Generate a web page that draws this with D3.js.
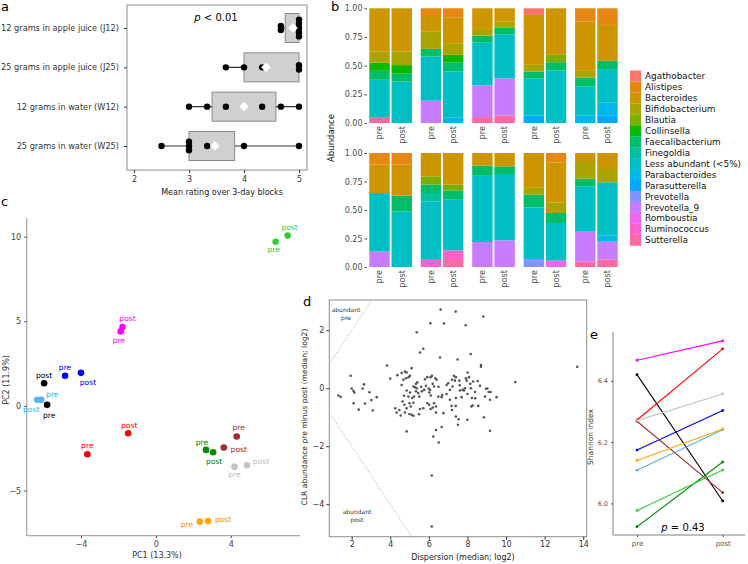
<!DOCTYPE html>
<html><head><meta charset="utf-8">
<script src="https://cdn.jsdelivr.net/npm/d3@7"></script>
<style>body{margin:0;background:#fff} svg{display:block}</style>
</head><body><svg id="fig" width="748" height="564"></svg>
<script>
// ---------------- DATA ----------------
// Panel a: tolerability ratings
const tolerCats = ["12 grams in apple juice (J12)","25 grams in apple juice (J25)","12 grams in water (W12)","25 grams in water (W25)"];
const tolerPoints = [[4.67,4.67,5,5,5,5,5],[3.67,4,4.33,5,5],[3,3.33,3.67,4.33,4.67,5],[2.5,3,3,3,3.33,4,5]];
const tolerQ1 = [4.75,4.0,3.42,3.0];
const tolerQ3 = [5,5,4.58,3.83];
const tolerMin = [4.67,3.67,3,2.5];
const tolerMax = [5,5,5,5];
const tolerMean = [4.89,4.4,4.0,3.47];
const tolerTicks = [2,3,4,5];

// Panel b: genus relative abundance, 20 samples (subject 1..10, pre/post)
const genera = ["Agathobacter","Alistipes","Bacteroides","Bifidobacterium","Blautia","Collinsella","Faecalibacterium","Finegoldia","Less abundant (<5%)","Parabacteroides","Parasutterella","Prevotella","Prevotella_9","Romboustia","Ruminococcus","Sutterella"];
const genusColors = ["#F8766D","#E68613","#CD9600","#ABA300","#7CAE00","#0CB702","#00BE67","#00C19A","#00BFC4","#00B8E7","#00A9FF","#8494FF","#C77CFF","#ED68ED","#FF61CC","#FF68A1"];
const timepoints = ["pre","post"];
const facetSubjects = [["S1","S2","S3","S4","S5"],["S6","S7","S8","S9","S10"]];
const abAgathobacter   = [0,0,0,0,0,0,.058,0,0,0, 0,0,0,0,0,0,0,0,0,0];
const abAlistipes      = [0,0,.067,.078,0,0,0,0,.116,.145, .102,.102,0,0,0,0,0,.082,0,0];
const abBacteroides    = [.377,.377,.133,.226,.18,.116,.435,.406,.429,.313, .249,.272,.205,.278,.111,.117,.30,.351,.079,.14];
const abBifidobacterium= [.096,.118,.154,.102,.058,.054,.058,0,.058,0, 0,0,0,0,0,0,.065,.093,.146,.117];
const abBlautia        = [0,0,0,0,0,0,0,.064,0,0, 0,0,.073,.05,0,0,0,0,0,0];
const abCollinsella    = [.072,.075,0,.067,0,0,0,0,0,0, 0,0,0,0,0,0,0,0,0,0];
const abFaecali        = [.078,.068,.066,.077,.062,.056,.059,.072,.077,.072, 0,.138,.073,.082,.089,.067,.112,.088,.067,0];
const abFinegoldia     = [0,0,0,0,0,0,0,0,0,0, 0,0,.073,0,0,0,0,0,0,0];
const abLess           = [.325,.362,.386,.40,.372,.384,.326,.458,.256,.29, .514,.488,.506,.444,.581,.582,.453,.33,.398,.468];
const abParabacteroides= [0,0,0,.05,0,0,0,0,.064,.113, 0,0,0,0,0,0,0,0,0,.053];
const abParasutterella = [0,0,0,0,0,0,.064,0,0,.067, 0,0,0,0,0,0,0,0,0,0];
const abPrevotella     = [0,0,0,0,0,0,0,0,0,0, 0,0,0,0,0,0,.07,0,0,0];
const abPrevotella9    = [0,0,.194,0,.276,.326,0,0,0,0, .135,0,0,0,.219,.234,0,0,.26,.158];
const abRomboustia     = [0,0,0,0,0,0,0,0,0,0, 0,0,0,0,0,0,0,.056,0,0];
const abRuminococcus   = [0,0,0,0,0,0,0,0,0,0, 0,0,.07,.076,0,0,0,0,0,0];
const abSutterella     = [.052,0,0,0,.052,.064,0,0,0,0, 0,0,0,.07,0,0,0,0,.05,.064];
const abundance = [abAgathobacter,abAlistipes,abBacteroides,abBifidobacterium,abBlautia,abCollinsella,abFaecali,abFinegoldia,abLess,abParabacteroides,abParasutterella,abPrevotella,abPrevotella9,abRomboustia,abRuminococcus,abSutterella];
const abTicks = [0,0.25,0.5,0.75,1];

// Panel c: PCA per subject
const subjects = ["S1","S2","S3","S4","S5","S6","S7","S8","S9","S10"];
const subjColors = ["#FF00FF","#0000FF","#000000","#56B4E9","#FF0000","#A52A2A","#008B00","#C4C4C4","#FFA500","#32CD32"];
const pc1Pre  = [-1.88,-4.85,-5.81,-6.12,-3.66,4.32,2.68,4.20,2.35,6.40];
const pc2Pre  = [4.40,1.78,0.06,0.36,-2.86,-1.81,-2.60,-3.59,-6.84,9.70];
const pc1Post = [-1.78,-4.00,-5.97,-6.34,-1.48,3.63,3.06,4.87,2.79,7.04];
const pc2Post = [4.66,1.95,1.34,0.36,-1.62,-2.46,-2.74,-3.51,-6.80,10.06];
const pcXTicks = [-4,0,4];
const pcYTicks = [-5,0,5,10];

// Panel d: ALDEx2-style effect plot
const dispersion = [6.61,7.39,8.82,6.08,6.78,7.91,5.37,8.17,5.54,5.71,6.58,7.49,8.70,8.70,3.83,13.69,10.48,1.95,1.31,1.43,2.00,2.09,2.14,2.10,2.36,2.57,2.64,2.69,2.92,3.02,3.09,3.30,4.00,4.37,4.26,4.33,4.47,4.54,4.76,4.85,4.59,4.76,4.85,4.68,4.82,4.95,5.02,5.11,4.64,4.73,4.85,4.94,5.00,5.06,5.11,5.20,5.02,5.13,5.20,5.28,5.33,5.37,5.40,5.45,5.50,5.54,5.49,5.71,5.80,5.92,5.99,6.06,6.02,6.09,6.16,6.20,6.27,6.34,6.40,5.92,6.02,6.09,6.20,6.27,6.37,6.37,6.23,6.37,6.51,6.66,6.15,6.15,6.66,6.69,6.75,6.49,6.92,7.09,7.18,7.20,7.23,7.30,7.40,7.35,7.40,7.39,7.40,7.51,7.54,7.58,7.61,7.70,7.75,7.82,7.87,7.92,7.96,8.01,8.08,7.99,8.15,8.18,8.23,8.27,8.20,8.30,8.39,8.53,8.56,8.65,8.85,8.91,8.96,9.03,9.10,9.17,9.20,9.17,9.51,7.09,7.00,6.92,5.85,5.76,5.64,5.33,5.23,4.59,4.71,4.85,4.99,5.60,6.10,7.60,8.00,6.50,7.20,5.20,8.40];
const clrDiff    = [2.71,2.64,2.47,2.24,2.23,2.17,1.93,1.18,1.23,1.36,1.06,0.99,0.80,0.74,0.78,0.74,0.21,0.43,-0.25,-0.30,-0.01,-0.09,-0.15,-0.52,-0.74,-0.01,0.13,-0.53,-0.14,-0.41,-0.77,-0.31,0.33,0.45,-0.69,-0.84,-0.75,-0.94,-0.84,-1.49,0.52,0.57,0.54,0.29,0.34,0.38,0.43,0.69,-0.46,-0.57,-0.08,-0.29,-0.52,-0.63,-0.92,-0.95,-0.15,-0.34,0.06,0.03,0.15,0.00,0.20,-0.17,-0.29,-0.72,-0.90,-0.69,0.31,0.38,-0.01,-0.06,-0.15,0.38,0.43,0.15,0.06,0.34,0.29,-0.52,-0.57,-0.72,-0.67,-0.52,-0.63,-0.84,-1.67,-1.44,-1.87,-1.34,-3.01,-4.77,-0.31,-0.24,-0.86,-0.29,-0.20,-0.40,-0.61,0.29,0.06,0.43,0.38,0.26,-0.34,-0.61,-0.98,-1.26,-1.07,0.26,-0.08,-0.31,-0.06,-0.08,0.00,0.34,0.26,0.54,0.38,-1.09,0.15,0.00,-0.34,-0.60,-0.63,0.23,-0.13,0.25,-0.61,0.08,-1.00,-0.29,-0.02,-0.01,-0.13,-0.40,-0.13,-1.47,-0.31,-0.06,0.17,0.11,0.08,-0.06,-0.11,-0.11,-0.29,0.11,-0.26,-0.69,-0.89,0.05,-0.25,0.10,-0.20,0.05,-0.75,-0.50,-0.35];
const dXTicks = [2,4,6,8,10,12,14];
const dYTicks = [-4,-2,0,2];

// Panel e: Shannon index
const shanPre  = [6.467,6.174,6.420,6.108,6.272,6.268,5.924,6.270,6.140,5.977];
const shanPost = [6.530,6.303,6.008,6.240,6.504,6.035,6.135,6.357,6.243,6.109];
const shanTicks = [6.0,6.2,6.4];

// ---------------- DRAWING ----------------
const FONT = '"DejaVu Sans", Verdana, sans-serif';
const svg = d3.select("#fig").attr("font-family", FONT);
function txt(g, x, y, s, o = {}) {
  const t = g.append("text").attr("x", x).attr("y", y).text(s)
    .attr("font-size", o.size || 8).attr("fill", o.fill || "#333")
    .attr("text-anchor", o.anchor || "start");
  if (o.dy) t.attr("dy", o.dy);
  if (o.rotate) t.attr("transform", `rotate(${o.rotate},${x},${y})`);
  if (o.style) t.attr("font-style", o.style);
  return t;
}
function styleAxis(g, col, size) {
  g.attr("font-family", FONT).attr("font-size", size);
  g.select(".domain").remove();
  g.selectAll(".tick line").attr("stroke", col);
  g.selectAll(".tick text").attr("fill", col);
}

// panel labels
txt(svg, 1, 11, "a", {size: 13, fill: "#000"});
txt(svg, 331, 11, "b", {size: 13, fill: "#000"});
txt(svg, 1, 206, "c", {size: 13, fill: "#000"});
txt(svg, 303, 306, "d", {size: 13, fill: "#000"});
txt(svg, 590, 339, "e", {size: 13, fill: "#000"});

// ---- Panel a
{
  const g = svg.append("g");
  const x = d3.scaleLinear().domain([2,5]).range([134,299]);
  const y = d3.scalePoint().domain(tolerCats).range([28,146]);
  g.append("rect").attr("x",127).attr("y",5).attr("width",180).attr("height",165)
    .attr("fill","none").attr("stroke","#8c8c8c").attr("stroke-width",1);
  const ax = g.append("g").attr("transform","translate(0,170)")
    .call(d3.axisBottom(x).tickValues(tolerTicks).tickSize(3).tickPadding(3).tickFormat(d3.format("d")));
  styleAxis(ax, "#333", 8);
  const ay = g.append("g").attr("transform","translate(127,0)")
    .call(d3.axisLeft(y).tickSize(3).tickPadding(5));
  styleAxis(ay, "#333", 8.2);
  tolerCats.forEach((c,i) => {
    const cy = y(c);
    g.append("line").attr("x1",x(tolerMin[i])).attr("x2",x(tolerMax[i])).attr("y1",cy).attr("y2",cy)
      .attr("stroke","#333").attr("stroke-width",1.2);
    g.append("rect").attr("x",x(tolerQ1[i])).attr("y",cy-14.5).attr("width",x(tolerQ3[i])-x(tolerQ1[i])).attr("height",29)
      .attr("fill","#d0d0d0").attr("stroke","#888").attr("stroke-width",1);
    const counts = d3.rollup(tolerPoints[i], v => v.length, d => d);
    const seen = new Map();
    tolerPoints[i].forEach(v => {
      const n = counts.get(v), k = seen.get(v) || 0; seen.set(v, k+1);
      const off = (k - (n-1)/2) * 4.2;
      g.append("circle").attr("cx",x(v)).attr("cy",cy+off).attr("r",3.2).attr("fill","#000");
    });
    g.append("path").attr("d", d3.symbol(d3.symbolDiamond2 || d3.symbolDiamond, 60)())
      .attr("transform",`translate(${x(tolerMean[i])},${cy})`).attr("fill","#fff");
  });
  const p = g.append("text").attr("x",216).attr("y",21).attr("text-anchor","middle").attr("font-size",10).attr("fill","#000");
  p.append("tspan").attr("font-style","italic").text("p");
  p.append("tspan").text(" < 0.01");
  txt(g, 222, 195, "Mean rating over 3-day blocks", {size: 8, anchor: "middle", fill: "#222"});
}

// ---- Panel b
{
  const g = svg.append("g");
  const rowsY = [[123, 8.3],[267, 153]];
  const fx = d3.scaleBand().domain(d3.range(5)).range([368, 619]).paddingInner(0.12);
  const tx = d3.scaleBand().domain(timepoints).range([0, fx.bandwidth()]).paddingInner(0.08).paddingOuter(0.06);
  const rows = d3.range(20).map(i => { const o = {}; genera.forEach((gn,gi) => o[gn] = abundance[gi][i]); return o; });
  const series = d3.stack().keys(genera.slice().reverse())(rows);
  const color = d3.scaleOrdinal().domain(genera).range(genusColors);
  [0,1].forEach(r => {
    const y = d3.scaleLinear().domain([0,1]).range(rowsY[r]);
    const ay = g.append("g").attr("transform","translate(367,0)")
      .call(d3.axisLeft(y).tickValues(abTicks).tickSize(2.5).tickPadding(2).tickFormat(d3.format(".2f")));
    styleAxis(ay, "#4d4d4d", 8);
    series.forEach(s => {
      facetSubjects[r].forEach((subj, f) => {
        timepoints.forEach((tp, t) => {
          const idx = (r*5 + f)*2 + t;
          const d = s[idx];
          if (d[1] - d[0] <= 0) return;
          g.append("rect").attr("x", fx(f) + tx(tp)).attr("width", tx.bandwidth())
            .attr("y", y(d[1])).attr("height", y(d[0]) - y(d[1]))
            .attr("fill", color(s.key));
        });
      });
    });
    facetSubjects[r].forEach((subj, f) => {
      timepoints.forEach(tp => {
        const cx = fx(f) + tx(tp) + tx.bandwidth()/2;
        const y0 = rowsY[r][0] + 3;
        txt(g, cx, y0, tp, {size: 8.2, fill: "#4d4d4d", anchor: "end", dy: "0.35em", rotate: -90});
      });
    });
  });
  txt(g, 334, 138, "Abundance", {size: 8.5, fill: "#111", anchor: "middle", rotate: -90});
  // legend
  genera.forEach((gn, i) => {
    const cy = 76 + i*10.95;
    g.append("rect").attr("x",630).attr("y",cy-5.5).attr("width",11).attr("height",11).attr("fill",genusColors[i]);
    txt(g, 645, cy, gn, {size: 8.9, fill: "#111", dy: "0.35em"});
  });
}

// ---- Panel c
{
  const g = svg.append("g");
  const x = d3.scaleLinear().domain([-6.9, 7.7]).range([26.7, 300]);
  const y = d3.scaleLinear().domain([-7.67, 11.1]).range([535.7, 218]);
  g.append("line").attr("x1",26.7).attr("x2",26.7).attr("y1",218).attr("y2",535.7).attr("stroke","#a8a8a8").attr("stroke-width",1.3);
  g.append("line").attr("x1",26.7).attr("x2",300).attr("y1",535.7).attr("y2",535.7).attr("stroke","#a8a8a8").attr("stroke-width",1.3);
  const ax = g.append("g").attr("transform","translate(0,535.7)").call(d3.axisBottom(x).tickValues(pcXTicks).tickSize(2.5).tickPadding(3));
  styleAxis(ax, "#444", 8);
  const ay = g.append("g").attr("transform","translate(26.7,0)").call(d3.axisLeft(y).tickValues(pcYTicks).tickSize(2.5).tickPadding(3));
  styleAxis(ay, "#444", 8);
  txt(g, 157, 558, "PC1 (13.3%)", {size: 8, anchor: "middle", fill: "#333"});
  txt(g, 9, 380, "PC2 (11.9%)", {size: 8, anchor: "middle", fill: "#333", rotate: -90});
  // label offsets (pixel layout, not data)
  const offPre  = [[-2,9],[0,-8],[2,10],[11,-5],[0,-8.5],[2,-9],[-4,-8],[0,8],[-13,2.5],[-2,8]];
  const offPost = [[5,-9],[7,9],[0,-8],[-6,10],[1,-8],[15,1.5],[1,9.5],[14,-4],[15,-2],[2,-8]];
  const labCol = ["#FF00FF","#0000FF","#000000","#29B6E8","#FF0000","#A52A2A","#008B00","#BDBDBD","#FF8C00","#32CD32"];
  subjects.forEach((s,i) => {
    g.append("circle").attr("cx",x(pc1Pre[i])).attr("cy",y(pc2Pre[i])).attr("r",3.3).attr("fill",subjColors[i]);
    g.append("circle").attr("cx",x(pc1Post[i])).attr("cy",y(pc2Post[i])).attr("r",3.3).attr("fill",subjColors[i]);
  });
  subjects.forEach((s,i) => {
    txt(g, x(pc1Pre[i])+offPre[i][0], y(pc2Pre[i])+offPre[i][1], "pre", {size: 7.6, anchor: "middle", fill: labCol[i], dy: "0.35em"});
    txt(g, x(pc1Post[i])+offPost[i][0], y(pc2Post[i])+offPost[i][1], "post", {size: 7.6, anchor: "middle", fill: labCol[i], dy: "0.35em"});
  });
}

// ---- Panel d
{
  const g = svg.append("g");
  const x = d3.scaleLinear().domain([0.84, 14.18]).range([329.3, 586.7]);
  const y = d3.scaleLinear().domain([-5.12, 3.04]).range([536.7, 300]);
  g.append("defs").append("clipPath").attr("id","clipD").append("rect")
    .attr("x",329.3).attr("y",300).attr("width",257.4).attr("height",236.7);
  const lg = g.append("g").attr("clip-path","url(#clipD)");
  [1,-1].forEach(s => {
    lg.append("line").attr("x1",x(0)).attr("y1",y(0)).attr("x2",x(8)).attr("y2",y(8*s))
      .attr("stroke","#9a9a9a").attr("stroke-width",0.8).attr("stroke-dasharray","1.2,1.8");
  });
  dispersion.forEach((dv,i) => {
    g.append("circle").attr("cx",x(dv)).attr("cy",y(clrDiff[i])).attr("r",1.3).attr("fill","#555");
  });
  g.append("rect").attr("x",329.3).attr("y",300).attr("width",257.4).attr("height",236.7)
    .attr("fill","none").attr("stroke","#8c8c8c").attr("stroke-width",1);
  const ax = g.append("g").attr("transform","translate(0,536.7)").call(d3.axisBottom(x).tickValues(dXTicks).tickSize(3).tickPadding(2));
  styleAxis(ax, "#333", 8);
  const ay = g.append("g").attr("transform","translate(329.3,0)").call(d3.axisLeft(y).tickValues(dYTicks).tickSize(3).tickPadding(2));
  styleAxis(ay, "#333", 8);
  txt(g, 463, 560, "Dispersion (median; log2)", {size: 8, anchor: "middle", fill: "#222"});
  txt(g, 307, 417, "CLR abundance pre minus post (median; log2)", {size: 7.6, anchor: "middle", fill: "#222", rotate: -90});
  txt(g, 346, 312, "abundant", {size: 6, anchor: "middle", fill: "#333"});
  txt(g, 346, 320, "pre", {size: 6, anchor: "middle", fill: "#333"});
  txt(g, 357, 514, "abundant", {size: 6, anchor: "middle", fill: "#333"});
  txt(g, 357, 522, "post", {size: 6, anchor: "middle", fill: "#333"});
}

// ---- Panel e
{
  const g = svg.append("g");
  const x = d3.scalePoint().domain(timepoints).range([637, 722.7]);
  const y = d3.scaleLinear().domain([5.897, 6.56]).range([535, 331.7]);
  g.append("line").attr("x1",613).attr("x2",613).attr("y1",331.7).attr("y2",535).attr("stroke","#a8a8a8").attr("stroke-width",1.5);
  g.append("line").attr("x1",613).attr("x2",745).attr("y1",535).attr("y2",535).attr("stroke","#a8a8a8").attr("stroke-width",1.5);
  const ay = g.append("g").attr("transform","translate(613,0)").call(d3.axisLeft(y).tickValues(shanTicks).tickSize(2).tickPadding(3).tickFormat(d3.format(".1f")));
  styleAxis(ay, "#555", 6.5);
  const ax = g.append("g").attr("transform","translate(0,535)").call(d3.axisBottom(x).tickSize(2).tickPadding(4));
  styleAxis(ax, "#555", 7);
  subjects.forEach((s,i) => {
    g.append("line").attr("x1",x("pre")).attr("y1",y(shanPre[i])).attr("x2",x("post")).attr("y2",y(shanPost[i]))
      .attr("stroke",subjColors[i]).attr("stroke-width",1.1);
    g.append("circle").attr("cx",x("pre")).attr("cy",y(shanPre[i])).attr("r",1.4).attr("fill",subjColors[i]);
    g.append("circle").attr("cx",x("post")).attr("cy",y(shanPost[i])).attr("r",1.4).attr("fill",subjColors[i]);
  });
  txt(g, 593, 437, "Shannon index", {size: 7.5, anchor: "middle", fill: "#333", rotate: -90});
  const p = g.append("text").attr("x",683).attr("y",531).attr("text-anchor","middle").attr("font-size",10).attr("fill","#000");
  p.append("tspan").attr("font-style","italic").text("p");
  p.append("tspan").text(" = 0.43");
}
</script></body></html>
